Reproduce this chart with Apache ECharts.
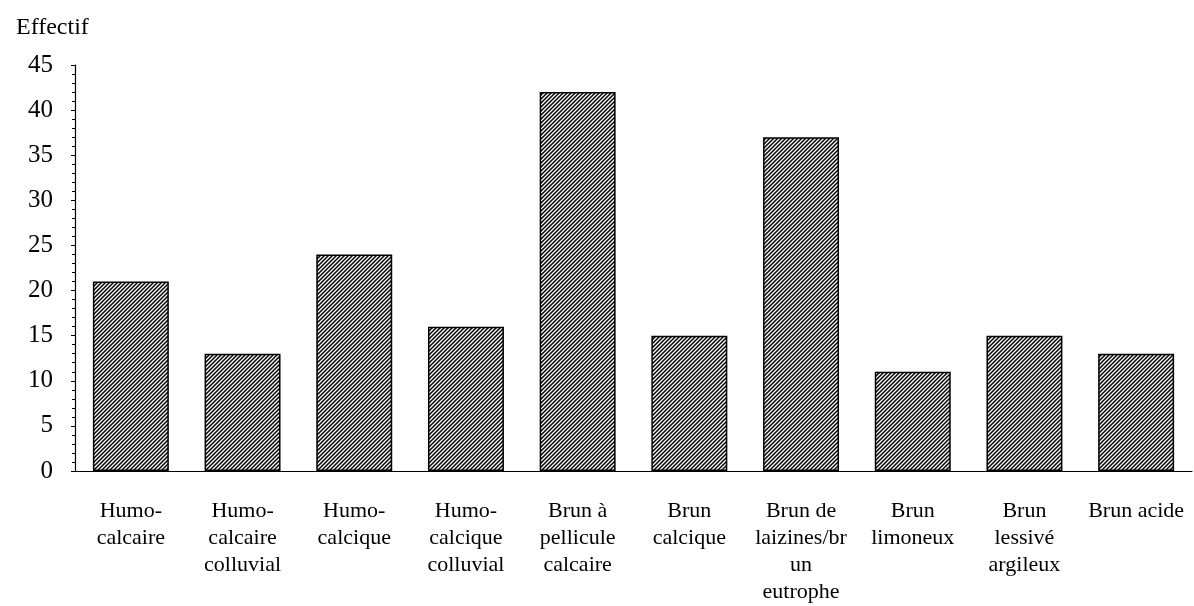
<!DOCTYPE html>
<html>
<head>
<meta charset="utf-8">
<script src="https://cdn.jsdelivr.net/npm/echarts@6/dist/echarts.min.js"></script>
<style>
  html, body { margin: 0; padding: 0; background: #fff; }
  #chart { width: 1194px; height: 606px; }
</style>
</head>
<body>
<div id="chart"></div>
<script>
// types de sol (axe X)
const categories = [
  "Humo-\ncalcaire",
  "Humo-\ncalcaire\ncolluvial",
  "Humo-\ncalcique",
  "Humo-\ncalcique\ncolluvial",
  "Brun à\npellicule\ncalcaire",
  "Brun\ncalcique",
  "Brun de\nlaizines/br\nun\neutrophe",
  "Brun\nlimoneux",
  "Brun\nlessivé\nargileux",
  "Brun acide"
];
// effectifs
const effectifs = [21, 13, 24, 16, 42, 15, 37, 11, 15, 13];
const yTicks = [0, 5, 10, 15, 20, 25, 30, 35, 40, 45];

const font = "'Liberation Serif', 'DejaVu Serif', serif";

// motif hachuré ////
function hatch() {
  const s = 4;
  const c = document.createElement("canvas");
  c.width = s; c.height = s;
  const ctx = c.getContext("2d");
  ctx.fillStyle = "#fff";
  ctx.fillRect(0, 0, s, s);
  ctx.strokeStyle = "#000";
  ctx.lineWidth = 1.5;
  ctx.beginPath();
  ctx.moveTo(0, s); ctx.lineTo(s, 0);
  ctx.moveTo(-1, 1); ctx.lineTo(1, -1);
  ctx.moveTo(s - 1, s + 1); ctx.lineTo(s + 1, s - 1);
  ctx.stroke();
  return c;
}

const chart = echarts.init(document.getElementById("chart"));
chart.setOption({
  animation: false,
  backgroundColor: "#fff",
  title: {
    text: "Effectif",
    left: 11,
    top: 11,
    textStyle: { fontFamily: font, fontSize: 24, fontWeight: "normal", color: "#000" }
  },
  grid: { left: 75, right: 2, top: 65, bottom: 132, containLabel: false },
  xAxis: {
    type: "category",
    data: categories,
    axisLine: { lineStyle: { color: "#000", width: 1.2 } },
    axisTick: { interval: 0, length: 5, lineStyle: { color: "#000" } },
    axisLabel: {
      interval: 0,
      margin: 27,
      fontFamily: font,
      fontSize: 22,
      lineHeight: 27,
      color: "#000",
      align: "center",
      verticalAlign: "top"
    },
    splitLine: { show: false }
  },
  yAxis: {
    type: "value",
    min: 0,
    max: 45,
    interval: 5,
    axisLine: { show: true, lineStyle: { color: "#000", width: 1.2 } },
    axisTick: { show: true, length: 4, lineStyle: { color: "#000" } },
    minorTick: { show: true, splitNumber: 5, length: 3, lineStyle: { color: "#000" } },
    splitLine: { show: false },
    axisLabel: {
      margin: 22,
      fontFamily: font,
      fontSize: 25,
      color: "#000",
      formatter: v => (yTicks.indexOf(v) >= 0 ? String(v) : "")
    }
  },
  series: [
    {
      name: "Effectif",
      type: "bar",
      data: effectifs,
      barCategoryGap: "32%",
      itemStyle: {
        color: { image: hatch(), repeat: "repeat" },
        borderColor: "#000",
        borderWidth: 1.5
      }
    }
  ]
});
</script>
</body>
</html>
